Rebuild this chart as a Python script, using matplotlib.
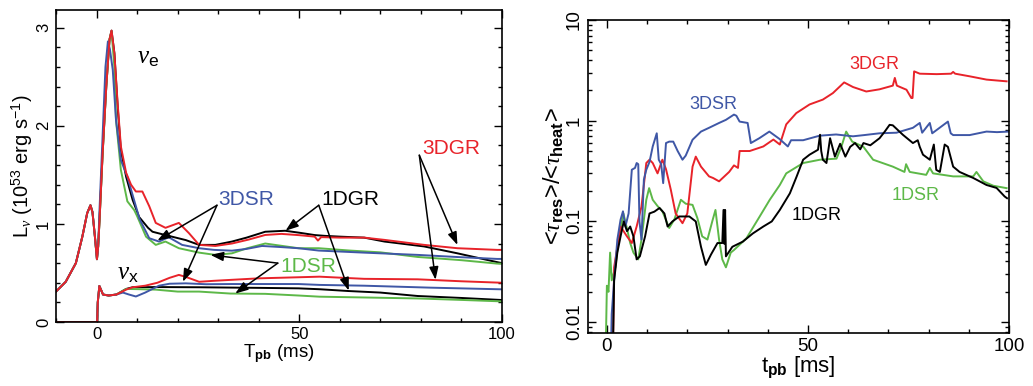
import matplotlib
matplotlib.use("Agg")
import matplotlib.pyplot as plt
from matplotlib.ticker import MultipleLocator, LogLocator, NullFormatter, FixedLocator
import numpy as np

plt.rcParams["font.family"] = ["Liberation Sans", "DejaVu Sans"]
plt.rcParams["mathtext.fontset"] = "custom"
plt.rcParams["mathtext.rm"] = "Liberation Sans"
plt.rcParams["mathtext.it"] = "Liberation Serif:italic"
plt.rcParams["mathtext.bf"] = "Liberation Sans:bold"

RED = "#e8232a"
BLUE = "#3f57a6"
GREEN = "#5db848"
BLACK = "#000000"

# ---- left panel: luminosities (10^53 erg/s) vs time after bounce (ms) ----
# shared pre-bounce nu_e part
t_pre = [-10, -7.6, -5.1, -3.5, -2.3, -1.5, -1.0, -0.4, 0.1, 0.4]
L_pre = [0.31, 0.41, 0.60, 0.87, 1.11, 1.19, 1.12, 0.87, 0.64, 0.77]

t_e_3dgr = [0.74, 1.5, 2.4, 3.2, 3.7, 4.4, 5.2, 6.0, 7.3, 8.5, 9.7, 11.3, 13, 14.6, 17, 20.3, 22.8,
            25.3, 29.3, 33.4, 37.5, 41.6, 45.6, 50, 53.8, 54.6, 55.4, 60, 66, 71, 80.8, 89, 98.8, 100]
L_e_3dgr = [1.04, 1.72, 2.40, 2.88, 2.97, 2.74, 2.23, 1.79, 1.52, 1.40, 1.33, 1.33, 1.18, 1.01, 0.96, 1.01, 0.905,
            0.786, 0.775, 0.80, 0.84, 0.887, 0.898, 0.885, 0.87, 0.83, 0.865, 0.86, 0.86, 0.837, 0.786, 0.752, 0.735, 0.735]

t_e_3dsr = [0.74, 1.5, 2.2, 2.8, 3.3, 4.0, 4.8, 6.0, 7.6, 9.7, 10.6, 13, 15.4, 17.8, 21.1, 25.3, 29,
            33.4, 37, 40.8, 45, 49.8, 54.8, 66, 79.2, 90, 98.8, 100]
L_e_3dsr = [1.15, 1.9, 2.6, 2.86, 2.78, 2.57, 2.06, 1.65, 1.48, 1.18, 1.05, 0.854, 0.82, 0.864, 0.786, 0.752, 0.735,
            0.727, 0.745, 0.775, 0.765, 0.752, 0.728, 0.707, 0.684, 0.66, 0.643, 0.643]

t_e_1dgr = [0.74, 1.5, 2.4, 3.2, 3.7, 4.4, 5.2, 6.0, 7.3, 8.9, 10.5, 12.7, 13.8, 17, 22, 25.3, 29.3,
            33.4, 37, 41.6, 46.5, 50, 53.8, 56.3, 60, 66, 71, 80.8, 89, 98.8, 100]
L_e_1dgr = [1.04, 1.72, 2.40, 2.88, 2.97, 2.74, 2.2, 1.75, 1.48, 1.245, 1.07, 0.96, 0.92, 0.886, 0.835, 0.786, 0.786,
            0.82, 0.86, 0.92, 0.93, 0.91, 0.886, 0.878, 0.87, 0.86, 0.82, 0.77, 0.70, 0.61, 0.60]

t_e_1dsr = [0.74, 1.5, 2.4, 3.2, 3.7, 4.4, 4.8, 6.0, 7.6, 9.3, 10, 12.2, 14.6, 17, 20.3, 25.3, 29.3,
            33.4, 37, 41.6, 45, 49.8, 54.8, 62.5, 70, 79.2, 90, 98.8, 100]
L_e_1dsr = [1.04, 1.72, 2.40, 2.88, 2.96, 2.6, 2.06, 1.55, 1.23, 1.14, 1.08, 0.87, 0.786, 0.82, 0.752, 0.707, 0.684,
            0.70, 0.75, 0.80, 0.78, 0.752, 0.752, 0.728, 0.71, 0.663, 0.63, 0.595, 0.595]

# shared early nu_x part
t_xpre = [-10, 0.15, 0.3, 0.7, 1.6, 3.0, 4.9]
L_xpre = [0.0, 0.0, 0.2, 0.367, 0.28, 0.27, 0.28]

t_x_3dgr = [7.3, 8.9, 12, 15, 18, 20.3, 22, 25.3, 29, 33.4, 40, 49.8, 55, 66, 79.2, 90, 100]
L_x_3dgr = [0.33, 0.354, 0.37, 0.40, 0.45, 0.48, 0.46, 0.41, 0.42, 0.43, 0.445, 0.456, 0.462, 0.44, 0.435, 0.415, 0.40]

t_x_3dsr = [6.5, 8, 9.7, 12, 15.4, 18, 22, 27, 33.4, 49.8, 55, 66, 82.4, 100]
L_x_3dsr = [0.30, 0.28, 0.26, 0.30, 0.37, 0.39, 0.394, 0.385, 0.387, 0.387, 0.378, 0.37, 0.35, 0.333]

t_x_1dgr = [7.3, 8.9, 15, 25.3, 40, 49.8, 55, 62, 70, 79.2, 90, 100]
L_x_1dgr = [0.337, 0.354, 0.356, 0.354, 0.348, 0.343, 0.334, 0.316, 0.30, 0.265, 0.245, 0.224]

t_x_1dsr = [7.3, 10, 14.6, 20, 25.3, 33, 41.6, 49.8, 55, 66, 79.2, 90, 100]
L_x_1dsr = [0.337, 0.335, 0.33, 0.31, 0.31, 0.29, 0.287, 0.27, 0.258, 0.25, 0.24, 0.225, 0.21]

# ---- right panel: <tau_res>/<tau_heat> ----
t_r_3dsr = [1.0, 1.2, 1.8, 2.6, 3.4, 4.0, 4.6, 5.4, 6.2, 7.0, 7.4, 7.8, 8.1, 8.6, 9.2, 9.8, 10.6, 11.4, 12.4, 12.9,
            13.5, 14.0, 14.7, 15.5, 16.5, 17.6, 18.8, 19.6, 21.3, 23.4, 25.4, 27.9, 29.6, 31.6, 32.2, 33.0, 35.0, 35.8,
            37.9, 40.4, 42.9, 45.0, 45.8, 48.8, 52.9, 57, 61.2, 64, 67.8, 72, 76.1, 77.8, 78.4, 80.3, 80.9, 84.8,
            85.5, 86.1, 90.2, 94.4, 97, 100]
r_3dsr = [0.005, 0.012, 0.026, 0.066, 0.104, 0.126, 0.089, 0.12, 0.326, 0.34, 0.38, 0.37, 0.10, 0.066, 0.26, 0.326,
          0.39, 0.555, 0.75, 0.41, 0.37, 0.24, 0.60, 0.62, 0.62, 0.50, 0.41, 0.45, 0.647, 0.78, 0.85, 0.95, 1.02, 1.15,
          1.12, 0.98, 0.95, 0.60, 0.67, 0.78, 0.66, 0.555, 0.64, 0.64, 0.71, 0.73, 0.70, 0.72, 0.75, 0.76, 0.85, 0.95,
          0.76, 0.95, 0.75, 0.98, 0.75, 0.72, 0.72, 0.78, 0.77, 0.78]

t_r_3dgr = [1.5, 1.8, 3.4, 5.0, 6.2, 7.4, 8.6, 9.8, 10.6, 11.4, 12.6, 13.8, 14.7, 15.9, 17.1, 18.8, 20.0, 21.3,
            22.1, 23.4, 25.4, 26.4, 27.9, 30.4, 31.6, 32.6, 33.0, 35.5, 38.9, 41.4, 43.0, 44.6, 47.1, 50.4, 53.7,
            56.2, 59.0, 61.2, 64.5, 67.8, 71.1, 71.6, 72.1, 74.5, 75.7, 76.0, 76.4, 77.8, 82, 85.6, 86.1, 86.6,
            90.2, 94.4, 99.4]
r_3dgr = [0.005, 0.035, 0.089, 0.071, 0.061, 0.089, 0.14, 0.38, 0.41, 0.38, 0.30, 0.41, 0.33, 0.206, 0.12, 0.096,
          0.12, 0.35, 0.44, 0.35, 0.28, 0.27, 0.25, 0.31, 0.36, 0.34, 0.50, 0.50, 0.555, 0.65, 0.58, 0.92, 1.19,
          1.45, 1.62, 1.88, 2.40, 2.16, 1.95, 2.05, 2.23, 2.66, 2.23, 2.03, 1.68, 1.68, 3.09, 2.93, 2.9, 2.93,
          3.05, 2.93, 2.76, 2.56, 2.46]

t_r_1dgr = [1.5, 1.8, 2.6, 3.4, 4.2, 5.0, 5.8, 6.6, 7.4, 8.2, 9.5, 10.6, 11.8, 13.1, 14.3, 15.1, 16.3, 18.0, 20.5,
            22.1, 23.4, 24.6, 25.9, 27.5, 28.7, 29.0, 29.2, 29.4, 29.6, 31.2, 33.8, 36.3, 38.9, 41, 43.0, 45.5,
            47.2, 48.8, 50.4, 52.5, 53.0, 53.3, 53.7, 54.6, 55.5, 56.7, 58, 59.3, 60.5, 61.7, 63, 63.8, 65.5, 67.8,
            69.1, 70.3, 71.1, 73.6, 76.1, 77.3, 77.8, 78.6, 80.3, 81.3, 81.9, 82.8, 84.0, 84.8, 86.1, 87.7, 91.1,
            94.4, 96.9, 98.9, 99.5]
r_1dgr = [0.005, 0.026, 0.049, 0.071, 0.10, 0.08, 0.089, 0.071, 0.042, 0.045, 0.071, 0.12, 0.125, 0.136, 0.12,
          0.089, 0.10, 0.112, 0.112, 0.10, 0.056, 0.037, 0.047, 0.061, 0.061, 0.13, 0.06, 0.13, 0.045, 0.056, 0.063,
          0.076, 0.089, 0.10, 0.13, 0.19, 0.28, 0.41, 0.46, 0.515, 0.725, 0.50, 0.41, 0.38, 0.67, 0.44, 0.59, 0.44,
          0.55, 0.60, 0.52, 0.60, 0.57, 0.67, 0.78, 0.91, 0.90, 0.725, 0.60, 0.64, 0.55, 0.46, 0.41, 0.58, 0.325,
          0.31, 0.58, 0.55, 0.35, 0.31, 0.27, 0.23, 0.215, 0.177, 0.17]

t_r_1dsr = [-0.3, 0, 0.4, 0.8, 1.2, 2.1, 2.9, 4.1, 5.0, 5.8, 6.6, 7.8, 8.6, 9.8, 10.5, 11.4, 12.6, 13.8, 15.5,
            16.8, 18.4, 19.6, 21.3, 22.5, 23.7, 25.0, 26.2, 27.0, 27.9, 28.7, 29.6, 30.8, 31.6, 34.7, 38.0, 40.5,
            43.0, 44.6, 48.8, 53, 57.1, 58.3, 59.5, 61, 63.8, 66.2, 71.1, 74.0, 74.4, 75.3, 79.4, 80.3, 81.1, 86.1,
            91.1, 91.9, 93.6, 96.1, 99.4]
r_1dsr = [0.005, 0.023, 0.02, 0.049, 0.026, 0.035, 0.066, 0.12, 0.085, 0.061, 0.049, 0.042, 0.066, 0.164, 0.214,
          0.164, 0.142, 0.126, 0.086, 0.105, 0.164, 0.15, 0.146, 0.108, 0.071, 0.066, 0.10, 0.13, 0.066, 0.042,
          0.035, 0.049, 0.052, 0.068, 0.112, 0.164, 0.23, 0.30, 0.38, 0.41, 0.42, 0.55, 0.78, 0.62, 0.55, 0.41,
          0.35, 0.31, 0.37, 0.31, 0.29, 0.34, 0.30, 0.28, 0.28, 0.31, 0.25, 0.226, 0.214]

fig = plt.figure(figsize=(10.33, 3.86), dpi=100)
ax1 = fig.add_axes([0.0542, 0.1658, 0.4318, 0.8083])
ax2 = fig.add_axes([0.5692, 0.1373, 0.4076, 0.8109])

LW = 1.4

# left panel curves
for t, L, c in [(t_e_1dgr, L_e_1dgr, BLACK), (t_e_1dsr, L_e_1dsr, GREEN),
                (t_e_3dsr, L_e_3dsr, BLUE), (t_e_3dgr, L_e_3dgr, RED)]:
    ax1.plot(t_pre + t, L_pre + L, color=c, lw=LW)
for t, L, c in [(t_x_1dgr, L_x_1dgr, BLACK), (t_x_1dsr, L_x_1dsr, GREEN),
                (t_x_3dsr, L_x_3dsr, BLUE), (t_x_3dgr, L_x_3dgr, RED)]:
    ax1.plot(t_xpre + t, L_xpre + L, color=c, lw=LW)

ax1.set_xlim(-10, 100)
ax1.set_ylim(0, 3.18)
ax1.set_xticks([0, 50, 100])
ax1.xaxis.set_minor_locator(MultipleLocator(10))
ax1.set_yticks([0, 1, 2, 3])
ax1.yaxis.set_minor_locator(MultipleLocator(0.2))
ax1.set_xlabel(r"T$_{\bf pb}$ (ms)", fontsize=13.5, labelpad=0)
ax1.set_ylabel(r"L$_\nu$ (10$^{53}$ erg s$^{-1}$)", fontsize=14.5, labelpad=1)

ax1.text(10, 2.7, r"$\nu_{\rm e}$", fontsize=18, va="center")
ax1.text(5.1, 0.5, r"$\nu_{\rm x}$", fontsize=18, va="center")

txt_kw = dict(fontsize=15, ha="left", va="center")
ax1.text(80.3, 1.77, "3DGR", color=RED, **txt_kw)
ax1.text(30.1, 1.25, "3DSR", color=BLUE, **txt_kw)
ax1.text(55.4, 1.25, "1DGR", color=BLACK, **txt_kw)
ax1.text(45.3, 0.57, "1DSR", color=GREEN, **txt_kw)

arrow_kw = dict(arrowstyle="-|>,head_length=0.7,head_width=0.25", color="k", lw=1.1,
                shrinkA=0, shrinkB=0, mutation_scale=11)
arrows = [
    ((79.6, 1.70), (89.0, 0.785)),
    ((79.6, 1.70), (83.6, 0.43)),
    ((29.7, 1.19), (15.0, 0.83)),
    ((29.7, 1.19), (21.3, 0.41)),
    ((54.8, 1.19), (46.6, 0.93)),
    ((54.8, 1.19), (62.2, 0.32)),
    ((44.7, 0.60), (28.1, 0.684)),
    ((44.7, 0.60), (34.2, 0.29)),
]
for src, dst in arrows:
    ax1.annotate("", xy=dst, xytext=src, arrowprops=arrow_kw)

# right panel curves
ax2.plot(t_r_1dsr, r_1dsr, color=GREEN, lw=LW)
ax2.plot(t_r_3dgr, r_3dgr, color=RED, lw=LW)
ax2.plot(t_r_3dsr, r_3dsr, color=BLUE, lw=LW)
ax2.plot(t_r_1dgr, r_1dgr, color=BLACK, lw=LW)

ax2.set_yscale("log")
ax2.set_xlim(-4.7, 100)
ax2.set_ylim(0.0078, 10)
ax2.set_xticks([0, 50, 100])
ax2.xaxis.set_minor_locator(MultipleLocator(10))
ax2.yaxis.set_major_locator(FixedLocator([0.01, 0.1, 1, 10]))
ax2.set_yticklabels(["0.01", "0.1", "1", "10"])
ax2.yaxis.set_minor_locator(LogLocator(base=10, subs=np.arange(2, 10)))
ax2.yaxis.set_minor_formatter(NullFormatter())
ax2.set_xlabel(r"t$_{\bf pb}$ [ms]", fontsize=16, labelpad=0)
ax2.set_ylabel(r"<$\tau_{\bf res}$>/<$\tau_{\bf heat}$>", fontsize=17, labelpad=0)

rtxt = dict(fontsize=13, ha="left", va="center")
ax2.text(20.6, 1.44, "3DSR", color=BLUE, **rtxt)
ax2.text(60.4, 3.6, "3DGR", color=RED, **rtxt)
ax2.text(45.9, 0.114, "1DGR", color=BLACK, **rtxt)
ax2.text(70.8, 0.18, "1DSR", color=GREEN, **rtxt)

for ax, fs in [(ax1, 12), (ax2, 13.5)]:
    ax.tick_params(which="both", direction="in", top=True, right=True, width=1.0)
    ax.tick_params(which="major", length=6, labelsize=fs)
    ax.tick_params(which="minor", length=3)
    ax.tick_params(axis="y", labelrotation=90)
    for lab in ax.get_yticklabels():
        lab.set_va("center")
    for s in ax.spines.values():
        s.set_linewidth(1.2)

fig.savefig("out.png", dpi=100)
